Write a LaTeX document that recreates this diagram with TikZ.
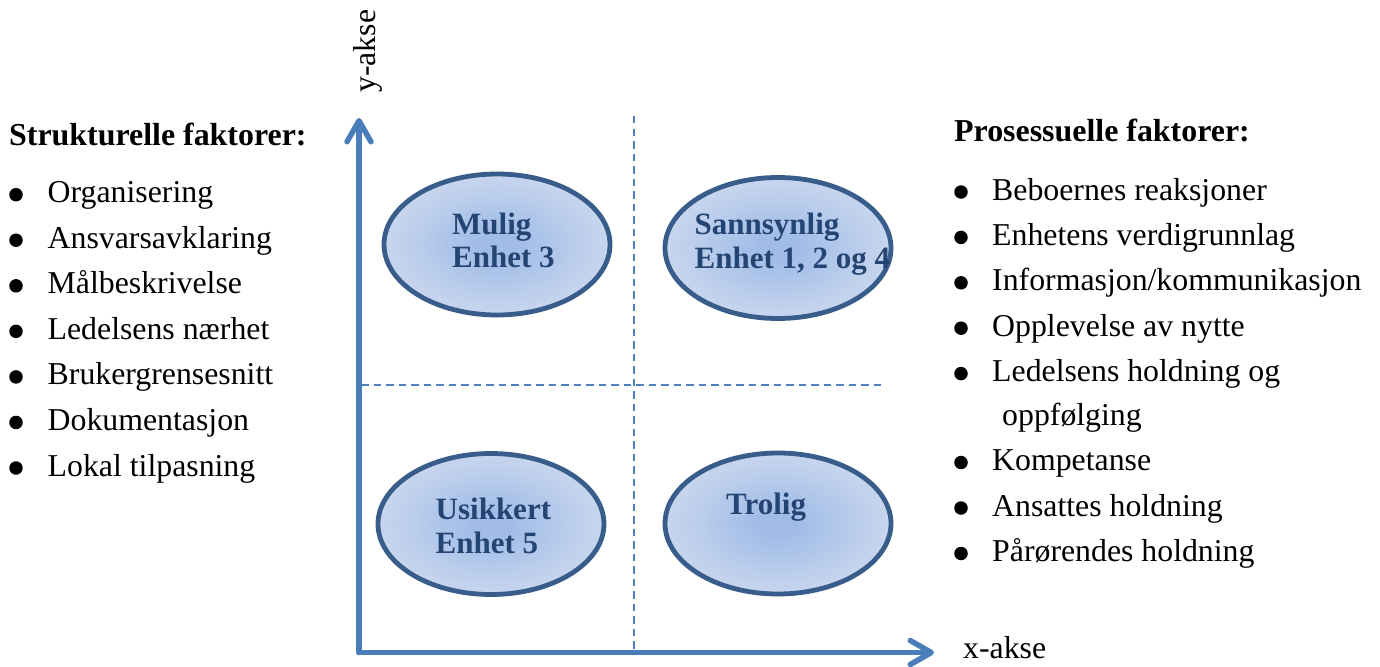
\documentclass[tikz,border=0pt]{standalone}
\usepackage{fontspec}
\setmainfont{Liberation Serif}
\usetikzlibrary{arrows.meta,shapes.geometric}
\definecolor{axisblue}{RGB}{74,126,187}
\definecolor{dashblue}{RGB}{79,129,189}
\definecolor{ellborder}{RGB}{56,93,138}
\definecolor{elltext}{RGB}{36,68,115}
\definecolor{ellin}{RGB}{160,188,231}
\definecolor{ellmid}{RGB}{198,213,238}
\definecolor{ellout}{RGB}{228,234,245}
\pgfdeclareradialshading{ellshade}{\pgfpoint{0bp}{0bp}}{color(0bp)=(ellin); color(4bp)=(ellin); color(24bp)=(ellmid); color(50bp)=(ellout)}
\tikzset{
  axisline/.style={draw=axisblue, line width=5.5pt, line cap=round, line join=round,
    -{Straight Barb[length=21pt,width=24pt,round]}},
  quadline/.style={draw=dashblue, line width=1.6pt, dash pattern=on 7.5pt off 5pt},
  blob/.style={ellipse, draw=ellborder, line width=4.8pt, shading=ellshade,
    minimum width=226pt, minimum height=141pt, inner sep=0pt},
  blobtext/.style={anchor=base west, inner sep=0pt, text=elltext,
    font=\fontsize{31}{33.5}\selectfont\bfseries, align=left},
  head/.style={anchor=base west, inner sep=0pt, font=\fontsize{31.9}{38}\selectfont\bfseries},
  item/.style={anchor=base west, inner sep=0pt, font=\fontsize{31.8}{38}\selectfont},
  bul/.style={circle, fill=black, inner sep=0pt, minimum size=13.5pt, yshift=8pt},
}
\begin{document}
\begin{tikzpicture}[x=1pt,y=-1pt]
\useasboundingbox (0,0) rectangle (1380,666);

% quadrant dashed lines
\coordinate (vtop) at (634,116);
\coordinate (vbot) at (634,652);
\coordinate (hl) at (361,385);
\coordinate (hr) at (883,385);
\draw[quadline] (vtop) -- (vbot);
\draw[quadline] (hl) -- (hr);

% ellipses
\node[blob] (mulig) at (497,244.5) {};
\node[blob] (sann) at (778,248) {};
\node[blob] (usik) at (491,524) {};
\node[blob] (trol) at (778,523.5) {};

% text nodes (base = baseline of last line)
\node[blobtext] (mulig-t) at (452,267.5) {Mulig\\Enhet 3};
\node[blobtext] (sann-t) at (694.5,268) {Sannsynlig\\Enhet 1, 2 og 4};
\node[blobtext] (usik-t) at (435.5,553) {Usikkert\\Enhet 5};
\node[blobtext] (trol-t) at (726,514) {Trolig};

% axes
\coordinate (origin) at (359,652.5);
\coordinate (ytip) at (359,118);
\coordinate (xtip) at (934,652.5);
\draw[axisline] (origin) -- (ytip);
\draw[axisline] (origin) -- (xtip);

\node[item, rotate=90] (ylab) at (375,93) {y-akse};
\node[item] (xlab) at (963,658) {x-akse};

% left list
\node[head] (lhead) at (9,145) {Strukturelle faktorer:};
\foreach \t [count=\i from 0] in {Organisering,Ansvarsavklaring,Målbeskrivelse,Ledelsens nærhet,Brukergrensesnitt,Dokumentasjon,Lokal tilpasning}{
  \node[bul] (lb\i) at (16,{202.7+45.55*\i}) {};
  \node[item] (li\i) at (47.5,{202.7+45.55*\i}) {\t};
}

% right list
\node[head] (rhead) at (954,141.7) {Prosessuelle faktorer:};
\node[bul] (rb0) at (961,200) {};
\node[item] (ri0) at (992,200) {Beboernes reaksjoner};
\node[bul] (rb1) at (961,245.4) {};
\node[item] (ri1) at (992,245.4) {Enhetens verdigrunnlag};
\node[bul] (rb2) at (961,290.8) {};
\node[item] (ri2) at (992,290.8) {Informasjon/kommunikasjon};
\node[bul] (rb3) at (961,336.2) {};
\node[item] (ri3) at (992,336.2) {Opplevelse av nytte};
\node[bul] (rb4) at (961,381.6) {};
\node[item] (ri4) at (992,381.6) {Ledelsens holdning og};
\node[item] (ri4b) at (1002,425.5) {oppfølging};
\node[bul] (rb5) at (961,470.5) {};
\node[item] (ri5) at (992,470.5) {Kompetanse};
\node[bul] (rb6) at (961,516) {};
\node[item] (ri6) at (992,516) {Ansattes holdning};
\node[bul] (rb7) at (961,561.5) {};
\node[item] (ri7) at (992,561.5) {Pårørendes holdning};
\end{tikzpicture}
\end{document}
